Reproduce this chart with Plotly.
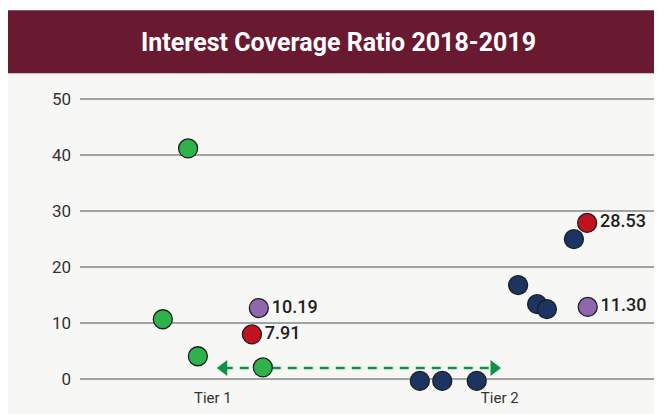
import plotly.graph_objects as go

# values (x is a position along the tier axis, 0-100)
tier1_x = [18.8, 14.4, 20.5, 31.8]
tier1_y = [41.2, 10.7, 4.1, 2.1]

tier2_x = [59.1, 63.0, 69.0, 76.2, 79.5, 81.2, 85.9]
tier2_y = [-0.3, -0.3, -0.3, 16.8, 13.4, 12.5, 25.0]

red_x = [29.9, 88.2]
red_y = [8.0, 27.9]
red_labels = ["7.91", "28.53"]

purple_x = [31.1, 88.3]
purple_y = [12.7, 12.9]
purple_labels = ["10.19", "11.30"]

arrow_x = [25.0, 72.0]
arrow_y = [2.0, 2.0]

tier_pos = [23.1, 73.0]
tier_labels = ["Tier 1", "Tier 2"]
y_ticks = [0, 10, 20, 30, 40, 50]

FONT = "Roboto"
OUTLINE = dict(color="#1e1e1e", width=1.3)
LABEL_FONT = dict(family=FONT, size=18, color="#222222", weight=500)

fig = go.Figure()

# dashed double arrow between the tiers, drawn first so dots sit on top
fig.add_trace(go.Scatter(
    x=arrow_x, y=arrow_y, mode="lines+markers",
    line=dict(color="#0f9247", width=2.5, dash="9px,7px"),
    marker=dict(symbol=["triangle-left", "triangle-right"], size=14,
                color="#0f9247", line=dict(width=0)),
    hoverinfo="skip", cliponaxis=False,
))

fig.add_trace(go.Scatter(
    x=tier1_x, y=tier1_y, mode="markers",
    marker=dict(size=19, color="#2db34a", line=OUTLINE), cliponaxis=False,
))
fig.add_trace(go.Scatter(
    x=tier2_x, y=tier2_y, mode="markers",
    marker=dict(size=19, color="#1c3461", line=OUTLINE), cliponaxis=False,
))
fig.add_trace(go.Scatter(
    x=red_x, y=red_y, mode="markers+text", text=red_labels,
    textposition="middle right", textfont=LABEL_FONT,
    marker=dict(size=19, color="#c0121f", line=OUTLINE), cliponaxis=False,
))
fig.add_trace(go.Scatter(
    x=purple_x, y=purple_y, mode="markers+text", text=purple_labels,
    textposition="middle right", textfont=LABEL_FONT,
    marker=dict(size=19, color="#8e67ad", line=OUTLINE), cliponaxis=False,
))

# title band and light panel
fig.add_shape(type="rect", xref="paper", yref="paper",
              x0=-0.127, x1=1.02, y0=-0.2, y1=1.087,
              fillcolor="#f7f7f5", line=dict(width=0), layer="below")
fig.add_shape(type="rect", xref="paper", yref="paper",
              x0=-0.127, x1=1.02, y0=1.087, y1=1.309,
              fillcolor="#691a31", line=dict(width=0), layer="below")
fig.add_annotation(text="<b>Interest Coverage Ratio 2018-2019</b>",
                   xref="paper", yref="paper", x=0.449, y=1.196,
                   xanchor="center", yanchor="middle", showarrow=False,
                   font=dict(family=FONT, size=25, color="white"))

fig.update_xaxes(range=[0, 100], tickvals=tier_pos, ticktext=tier_labels,
                 showgrid=False, zeroline=False, showline=False, ticks="",
                 ticklabelstandoff=5,
                 tickfont=dict(family=FONT, size=15, color="#333333"))
fig.update_yaxes(range=[-0.5, 50.2], tickvals=y_ticks, showgrid=True,
                 gridcolor="#a3a3a3", gridwidth=1.5,
                 zeroline=True, zerolinecolor="#a3a3a3", zerolinewidth=1.5,
                 showline=False, ticks="", ticklabelstandoff=8,
                 tickfont=dict(family=FONT, size=17, color="#333333"))

# the page body adds an 8px margin, so the figure is sized to fit inside it
fig.update_layout(
    width=654, height=406,
    margin=dict(l=72, r=7, t=90, b=32),
    paper_bgcolor="white", plot_bgcolor="rgba(0,0,0,0)",
    showlegend=False,
    font=dict(family=FONT),
)

fig.write_html("out.html")
